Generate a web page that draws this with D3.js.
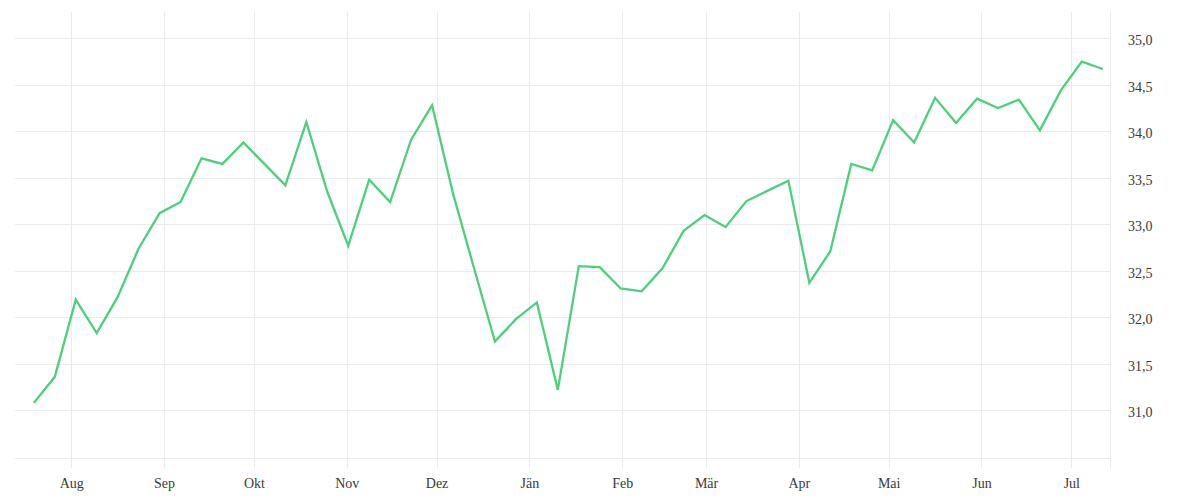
<!DOCTYPE html>
<html>
<head>
<meta charset="utf-8">
<script src="https://cdn.jsdelivr.net/npm/d3@7"></script>
<style>
  html, body { margin: 0; padding: 0; background: #fff; }
  svg { display: block; }
  .tick text { font-family: "Liberation Serif", "DejaVu Serif", serif; font-size: 14px; fill: #3a3a3a; }
</style>
</head>
<body>
<svg id="chart" width="1200" height="500"></svg>
<script>
const dates = [
  "2022-07-19","2022-07-26","2022-08-02","2022-08-09","2022-08-16","2022-08-23","2022-08-30",
  "2022-09-06","2022-09-13","2022-09-20","2022-09-27","2022-10-04","2022-10-11","2022-10-18",
  "2022-10-25","2022-11-01","2022-11-08","2022-11-15","2022-11-22","2022-11-29","2022-12-06",
  "2022-12-13","2022-12-20","2022-12-27","2023-01-03","2023-01-10","2023-01-17","2023-01-24",
  "2023-01-31","2023-02-07","2023-02-14","2023-02-21","2023-02-28","2023-03-07","2023-03-14",
  "2023-03-21","2023-03-28","2023-04-04","2023-04-11","2023-04-18","2023-04-25","2023-05-02",
  "2023-05-09","2023-05-16","2023-05-23","2023-05-30","2023-06-06","2023-06-13","2023-06-20",
  "2023-06-27","2023-07-04","2023-07-11"
];
const values = [
  31.08, 31.36, 32.19, 31.83, 32.22, 32.74, 33.12,
  33.24, 33.71, 33.65, 33.88, 33.65, 33.42, 34.10,
  33.35, 32.77, 33.48, 33.24, 33.91, 34.28, 33.33,
  32.53, 31.74, 31.98, 32.16, 31.22, 32.55, 32.54,
  32.31, 32.28, 32.53, 32.93, 33.10, 32.97, 33.25,
  33.36, 33.47, 32.37, 32.71, 33.65, 33.58, 34.12,
  33.88, 34.36, 34.09, 34.35, 34.25, 34.34, 34.01,
  34.44, 34.75, 34.67
];
const monthLabels = ["Aug","Sep","Okt","Nov","Dez","Jän","Feb","Mär","Apr","Mai","Jun","Jul"];
const monthTicks = ["2022-08-01","2022-09-01","2022-10-01","2022-11-01","2022-12-01","2023-01-01",
  "2023-02-01","2023-03-01","2023-04-01","2023-05-01","2023-06-01","2023-07-01"];
const yTicks = [31, 31.5, 32, 32.5, 33, 33.5, 34, 34.5, 35];

const parseDay = s => { const [yy,m,d] = s.split("-").map(Number); return new Date(yy, m-1, d, 12); };
const parseMonth = s => { const [yy,m,d] = s.split("-").map(Number); return new Date(yy, m-1, d); };

const data = dates.map((d, i) => ({ date: parseDay(d), value: values[i] }));

const plotLeft = 15, plotRight = 1110, plotTop = 12, plotBottom = 458.5, tickEnd = 468;
const svg = d3.select("#chart");

const x = d3.scaleTime()
  .domain([new Date(2022, 6, 13, 5), new Date(2023, 6, 13, 22)])
  .range([plotLeft, plotRight]);
const y = d3.scaleLinear()
  .domain([30.482, 35.283])
  .range([plotBottom, plotTop]);

const locale = d3.formatLocale({ decimal: ",", thousands: ".", grouping: [3], currency: ["", " €"] });
const fmt = locale.format(".1f");

const gridColor = "#ebebeb";

// Horizontal gridlines + right labels
const yAxis = svg.append("g")
  .attr("transform", `translate(${plotLeft},0)`)
  .call(d3.axisRight(y).tickValues(yTicks).tickSize(plotRight - plotLeft).tickPadding(18).tickFormat(fmt));
yAxis.select(".domain").remove();
yAxis.selectAll(".tick line").attr("stroke", gridColor).attr("shape-rendering", "crispEdges");
yAxis.selectAll(".tick text").attr("dy", "0.46em");

// Vertical gridlines + month labels
const monthDates = monthTicks.map(parseMonth);
const xAxis = svg.append("g")
  .attr("transform", `translate(0,${plotTop})`)
  .call(d3.axisBottom(x).tickValues(monthDates).tickSize(tickEnd - plotTop).tickPadding(10)
    .tickFormat((d, i) => monthLabels[i]));
xAxis.select(".domain").remove();
xAxis.selectAll(".tick line").attr("stroke", gridColor).attr("shape-rendering", "crispEdges");

// Bottom plot edge and right edge
svg.append("line")
  .attr("x1", plotLeft).attr("x2", plotRight).attr("y1", plotBottom).attr("y2", plotBottom)
  .attr("stroke", gridColor).attr("shape-rendering", "crispEdges");
svg.append("line")
  .attr("x1", plotRight).attr("x2", plotRight).attr("y1", plotTop).attr("y2", tickEnd)
  .attr("stroke", gridColor).attr("shape-rendering", "crispEdges");

// Line
const line = d3.line().x(d => x(d.date)).y(d => y(d.value));
svg.append("path")
  .datum(data)
  .attr("fill", "none")
  .attr("stroke", "#4bd07b")
  .attr("stroke-width", 2.3)
  .attr("stroke-linejoin", "miter")
  .attr("d", line);
</script>
</body>
</html>
